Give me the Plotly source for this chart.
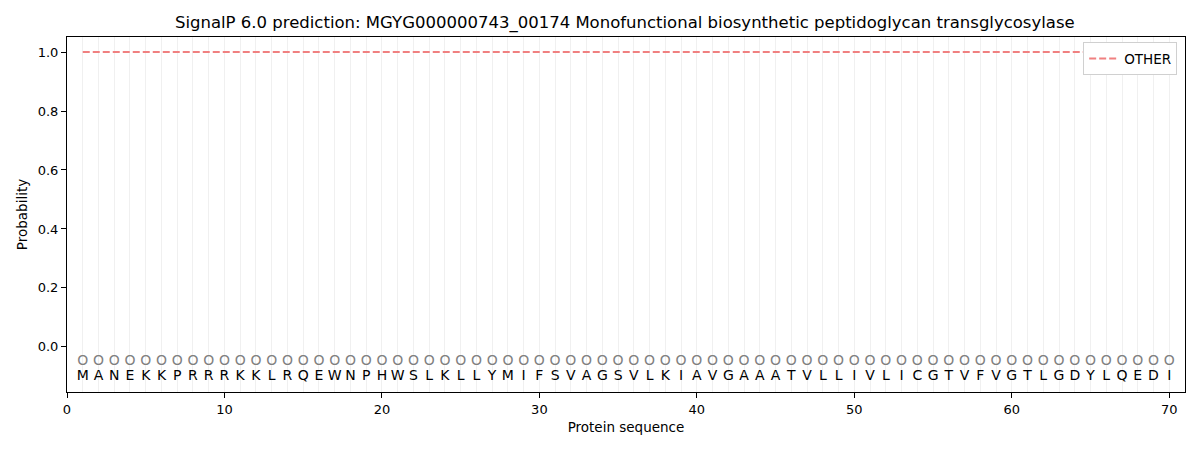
import plotly.graph_objects as go

title = "SignalP 6.0 prediction: MGYG000000743_00174 Monofunctional biosynthetic peptidoglycan transglycosylase"
sequence = list("MANEKKPRRRKKLRQEWNPHWSLKLLYMIFSVAGSVLKIAVGAAATVLLIVLICGTVFVGTLGDYLQEDI")
positions = list(range(1, len(sequence) + 1))
other_prob = [1.0] * len(sequence)
pred_labels = ["O"] * len(sequence)

font = "DejaVu Sans, Arial, sans-serif"

fig = go.Figure()

fig.add_trace(go.Scatter(
    x=positions, y=other_prob,
    mode="lines",
    name="OTHER",
    line=dict(color="#f08080", width=2, dash="7px,3px"),
))

fig.add_trace(go.Scatter(
    x=positions, y=[-0.05] * len(positions),
    mode="text", text=pred_labels,
    textfont=dict(family=font, size=14, color="#808080"),
    showlegend=False, hoverinfo="skip",
))

fig.add_trace(go.Scatter(
    x=positions, y=[-0.10] * len(positions),
    mode="text", text=sequence,
    textfont=dict(family=font, size=14, color="black"),
    showlegend=False, hoverinfo="skip",
))

# page body has an 8px offset, margins compensate for it
fig.update_layout(
    width=1200, height=450,
    margin=dict(l=59, r=23, t=29, b=66),
    plot_bgcolor="white", paper_bgcolor="white",
    font=dict(family=font, size=12, color="black"),
    title=dict(text=title, x=0.514, xanchor="center", y=0.969, yanchor="middle",
               font=dict(size=16.5)),
    legend=dict(x=0.993, y=0.985, xanchor="right", yanchor="top",
                bgcolor="white", bordercolor="#d0d0d0", borderwidth=1,
                font=dict(size=13.5)),
    xaxis=dict(
        range=[0, 71], tickmode="array", tickvals=[0, 10, 20, 30, 40, 50, 60, 70],
        showline=True, linecolor="black", linewidth=1, mirror=True,
        ticks="outside", ticklen=5, tickcolor="black", automargin=False,
        tickfont=dict(size=13),
        showgrid=True, gridcolor="#f0f0f0", gridwidth=1, zeroline=False,
        minor=dict(dtick=1, tick0=0, showgrid=True, gridcolor="#f0f0f0", gridwidth=1),
        title=dict(text="Protein sequence", standoff=6, font=dict(size=13.5)),
    ),
    yaxis=dict(
        range=[-0.153, 1.051], tickvals=[0, 0.2, 0.4, 0.6, 0.8, 1.0],
        ticktext=["0.0", "0.2", "0.4", "0.6", "0.8", "1.0"],
        showline=True, linecolor="black", linewidth=1, mirror=True,
        ticks="outside", ticklen=5, tickcolor="black", automargin=False,
        tickfont=dict(size=13),
        showgrid=False, zeroline=False,
        title=dict(text="Probability", standoff=6, font=dict(size=13.5)),
    ),
)

fig.write_html("out.html")
